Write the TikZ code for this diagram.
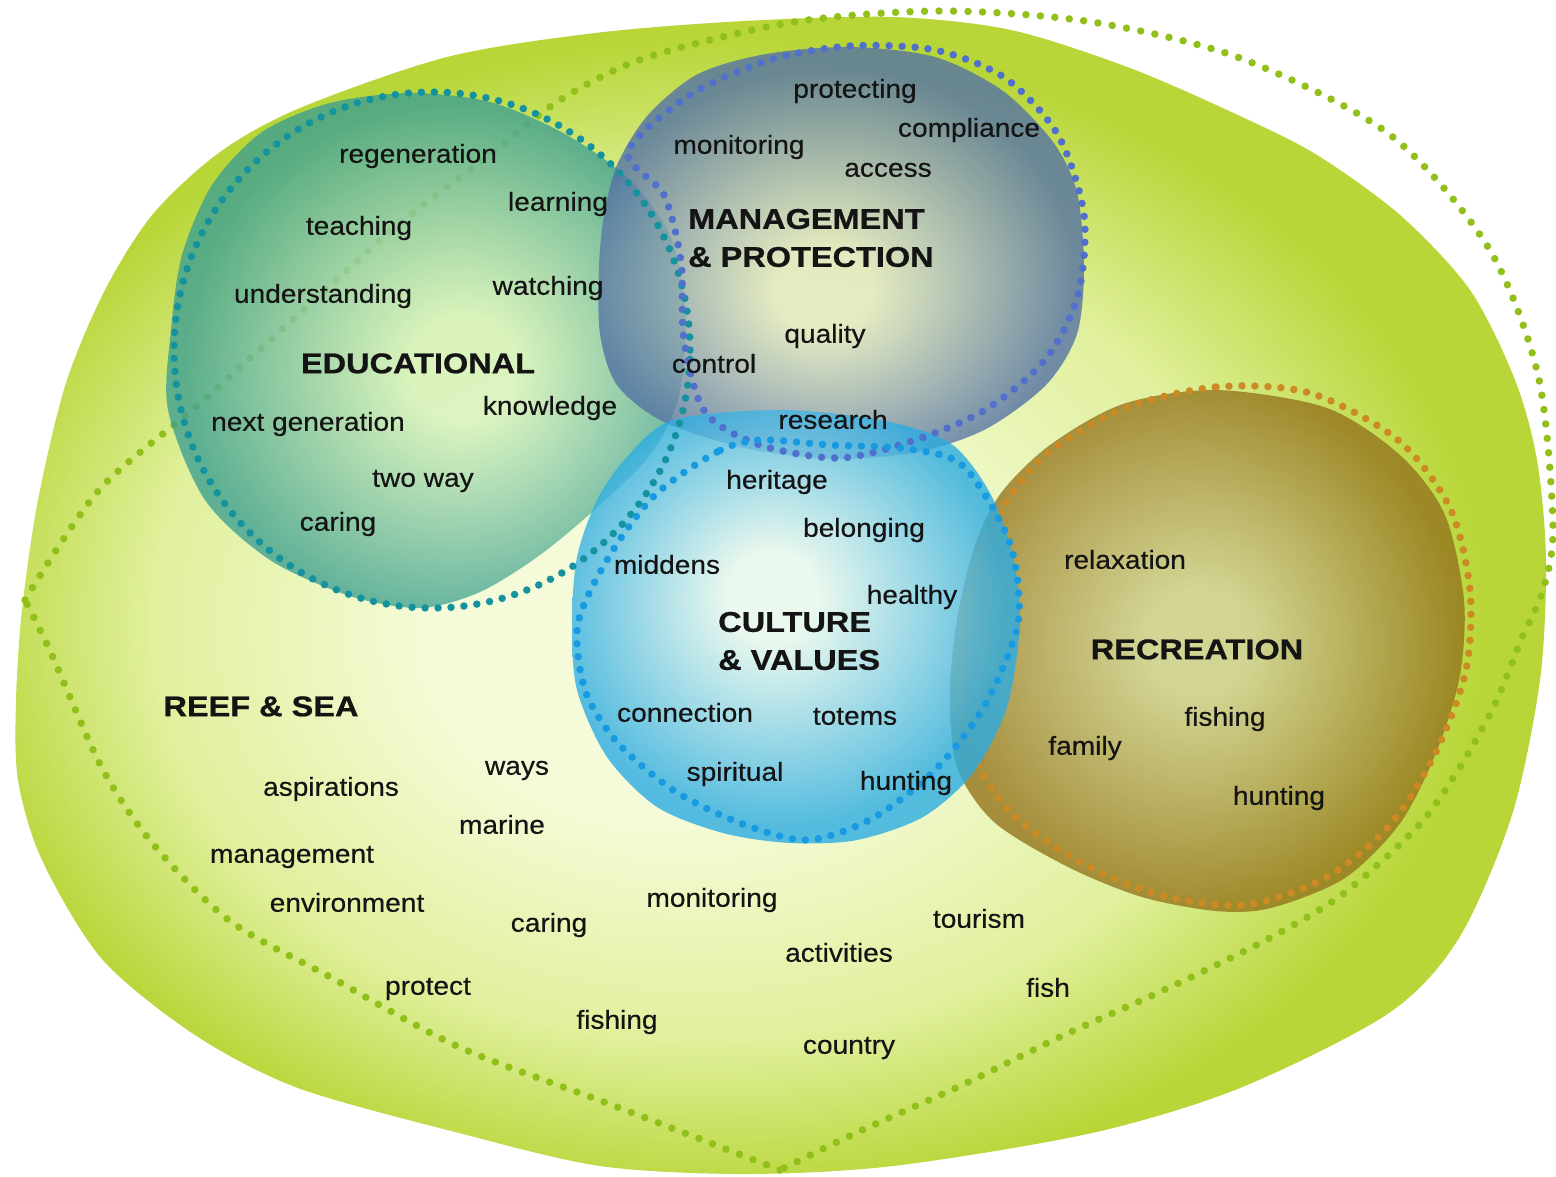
\documentclass[tikz,border=0pt]{standalone}
\usepackage{fontspec}
\setmainfont{Liberation Sans}
\newfontfamily\wordfont[FakeStretch=1.08, FakeBold=0.4]{Liberation Sans}
\newfontfamily\headfont[FakeStretch=1.14, FakeBold=0.8]{Liberation Sans}
\usepackage{tikz}
\definecolor{ink}{RGB}{20, 20, 20}
\definecolor{sealight}{RGB}{245, 251, 216}
\definecolor{seamid}{RGB}{224, 240, 156}
\definecolor{seadark}{RGB}{184, 214, 56}
\definecolor{seadots}{RGB}{146, 192, 26}
\definecolor{edulight}{RGB}{216, 244, 192}
\definecolor{edudark}{RGB}{62, 160, 144}
\definecolor{edudots}{RGB}{20, 146, 158}
\definecolor{mgmtlight}{RGB}{228, 233, 198}
\definecolor{mgmtdark}{RGB}{84, 114, 164}
\definecolor{mgmtdots}{RGB}{80, 112, 204}
\definecolor{cultlight}{RGB}{232, 248, 244}
\definecolor{cultdark}{RGB}{44, 172, 226}
\definecolor{cultdots}{RGB}{24, 154, 224}
\definecolor{reclight}{RGB}{206, 206, 142}
\definecolor{recdark}{RGB}{148, 116, 28}
\definecolor{recdots}{RGB}{204, 138, 36}
\pgfdeclareradialshading{seashade}{\pgfpoint{-4bp}{-2bp}}{color(0bp)=(sealight); color(8bp)=(sealight); color(18bp)=(seamid); color(25bp)=(seadark); color(50bp)=(seadark)}
\pgfdeclareradialshading{edushade}{\pgfpoint{4bp}{-2bp}}{color(0bp)=(edulight); color(5bp)=(edulight); color(25bp)=(edudark); color(50bp)=(edudark)}
\pgfdeclareradialshading{mgmtshade}{\pgfpoint{-2bp}{-5bp}}{color(0bp)=(mgmtlight); color(5bp)=(mgmtlight); color(25bp)=(mgmtdark); color(50bp)=(mgmtdark)}
\pgfdeclareradialshading{cultshade}{\pgfpoint{-3bp}{4bp}}{color(0bp)=(cultlight); color(5bp)=(cultlight); color(25bp)=(cultdark); color(50bp)=(cultdark)}
\pgfdeclareradialshading{recshade}{\pgfpoint{-1bp}{1bp}}{color(0bp)=(reclight); color(5bp)=(reclight); color(25bp)=(recdark); color(50bp)=(recdark)}
\tikzset{
    word/.style={font=\wordfont\fontsize{26}{30}\selectfont, text=ink, inner sep=0pt, text height=13.5pt, text depth=0pt},
    head/.style={font=\headfont\bfseries\fontsize{28.5}{38}\selectfont, text=ink, inner sep=0pt, text height=20.4pt, text depth=0pt},
    head pair/.style={font=\headfont\bfseries\fontsize{28.5}{38}\selectfont, text=ink, inner sep=0pt, align=left, anchor=west},
    blob/.style={opacity=0.8},
    dots/.style={line width=7.5pt, line cap=round, dash pattern=on 0pt off 13pt},
    wide dots/.style={dots, dash pattern=on 0pt off 14.5pt}
}

\begin{document}
\begin{tikzpicture}[x=1pt, y=-1pt]
\fill[white] (0,0) rectangle (1556,1176);
\useasboundingbox (0,0) rectangle (1556,1176);

% reef & sea ground
\shade[shading=seashade] plot[smooth cycle] coordinates {(16,700) (22,610) (38,500) (66,383) (105,290) (153,214) (220,152) (300,108) (447,57) (595,33) (744,21) (893,17) (1011,30) (1130,68) (1240,116) (1317,155) (1400,215) (1470,290) (1515,380) (1537,460) (1546,560) (1540,680) (1512,815) (1459,938) (1389,1013) (1240,1088) (1092,1133) (893,1166) (744,1174) (600,1166) (459,1133) (298,1088) (195,1035) (102,959) (42,860) (18,780)};
\draw[wide dots, seadots] plot[smooth] coordinates {(25,600) (99,490) (198,405) (298,315) (397,226) (496,150) (560,100) (645,58) (794,22) (943,11) (1092,22) (1240,58) (1389,134) (1488,247) (1538,375) (1553,525) (1543,590) (1521,640) (1496,702) (1460,767) (1419,825) (1343,894) (1266,940) (1164,990) (1062,1036) (960,1086) (858,1132) (780,1170)};
\draw[wide dots, seadots] plot[smooth] coordinates {(780,1170) (612,1105) (459,1047) (332,978) (230,921) (153,844) (102,768) (51,653) (25,600)};

% the four themes
\shade[blob, shading=edushade] plot[smooth cycle] coordinates {(168,410) (171,330) (182,255) (212,185) (262,132) (330,103) (410,93) (490,102) (565,134) (630,180) (672,240) (686,320) (678,400) (650,455) (600,505) (540,555) (480,592) (420,608) (350,596) (270,560) (205,500)};
\shade[blob, shading=mgmtshade] plot[smooth cycle] coordinates {(599,267) (600,334) (617,385) (664,422) (749,449) (834,459) (918,452) (986,429) (1046,385) (1077,334) (1084,267) (1077,192) (1053,142) (1003,91) (935,57) (850,47) (766,54) (698,74) (648,115) (617,165) (604,216)};
\shade[blob, shading=recshade] plot[smooth cycle] coordinates {(1216,390) (1327,408) (1401,456) (1445,515) (1464,600) (1460,675) (1438,748) (1401,822) (1345,878) (1271,908) (1216,911) (1142,897) (1068,867) (994,822) (957,767) (950,693) (957,619) (975,545) (1001,493) (1050,445) (1123,404)};
\draw[dots, recdots] plot[smooth cycle] coordinates {(1120,410) (1216,387) (1310,393) (1398,440) (1450,508) (1470,590) (1466,670) (1436,752) (1390,825) (1325,878) (1245,905) (1160,895) (1080,862) (1010,812) (972,750) (962,680) (968,600) (990,530) (1040,460)};
\shade[blob, shading=cultshade] plot[smooth cycle] coordinates {(673,420) (780,410) (880,420) (950,443) (990,493) (1013,557) (1020,623) (1007,707) (973,773) (923,817) (857,840) (790,843) (723,833) (657,807) (607,757) (577,690) (572,623) (577,557) (597,500) (627,457)};

\draw[dots, edudots] (432,350) ellipse [x radius=258pt, y radius=258pt];
\draw[dots, mgmtdots] plot[smooth cycle] coordinates {(628,152) (690,95) (770,60) (850,46) (935,50) (1005,78) (1058,135) (1084,215) (1078,295) (1045,360) (985,410) (915,440) (840,458) (760,445) (705,412) (684,340) (681,262) (664,195)};
\draw[dots, cultdots] plot[smooth cycle] coordinates {(760,440) (717,452) (655,495) (610,555) (578,623) (585,690) (617,742) (673,790) (740,823) (807,840) (873,818) (935,770) (985,705) (1018,623) (1012,550) (985,495) (955,460) (900,448) (830,445)};

% educational
\node[head] (educational) at (418,363) {EDUCATIONAL};
\node[word] (regeneration) at (418,156) {regeneration};
\node[word] (learning) at (558,204) {learning};
\node[word] (teaching) at (359,228) {teaching};
\node[word] (understanding) at (323,296) {understanding};
\node[word] (watching) at (548,288) {watching};
\node[word] (nextgen) at (308,424) {next generation};
\node[word] (knowledge) at (550,408) {knowledge};
\node[word] (twoway) at (423,480) {two way};
\node[word] (edu-caring) at (338,524) {caring};

% management & protection
\node[head pair] (management) at (688,238) {MANAGEMENT\\\& PROTECTION};
\node[word] (protecting) at (855,91) {protecting};
\node[word] (compliance) at (969,130) {compliance};
\node[word] (mgmt-monitoring) at (739,147) {monitoring};
\node[word] (access) at (888,170) {access};
\node[word] (quality) at (825,336) {quality};
\node[word] (control) at (714,366) {control};
\node[word] (research) at (833,422) {research};

% culture & values
\node[head pair] (culture) at (718,641) {CULTURE\\\& VALUES};
\node[word] (heritage) at (777,482) {heritage};
\node[word] (belonging) at (864,530) {belonging};
\node[word] (middens) at (667,567) {middens};
\node[word] (healthy) at (912,597) {healthy};
\node[word] (connection) at (685,715) {connection};
\node[word] (totems) at (855,718) {totems};
\node[word] (spiritual) at (735,774) {spiritual};
\node[word] (cult-hunting) at (906,783) {hunting};

% recreation
\node[head] (recreation) at (1197,649) {RECREATION};
\node[word] (relaxation) at (1125,562) {relaxation};
\node[word] (rec-fishing) at (1225,719) {fishing};
\node[word] (family) at (1085,748) {family};
\node[word] (rec-hunting) at (1279,798) {hunting};

% reef & sea
\node[head] (reefsea) at (261,706) {REEF \& SEA};
\node[word] (ways) at (517,768) {ways};
\node[word] (aspirations) at (331,789) {aspirations};
\node[word] (marine) at (502,827) {marine};
\node[word] (sea-management) at (292,856) {management};
\node[word] (environment) at (347,905) {environment};
\node[word] (sea-caring) at (549,925) {caring};
\node[word] (sea-monitoring) at (712,900) {monitoring};
\node[word] (tourism) at (979,921) {tourism};
\node[word] (activities) at (839,955) {activities};
\node[word] (protect) at (428,988) {protect};
\node[word] (fish) at (1048,990) {fish};
\node[word] (sea-fishing) at (617,1022) {fishing};
\node[word] (country) at (849,1047) {country};
\end{tikzpicture}
\end{document}
